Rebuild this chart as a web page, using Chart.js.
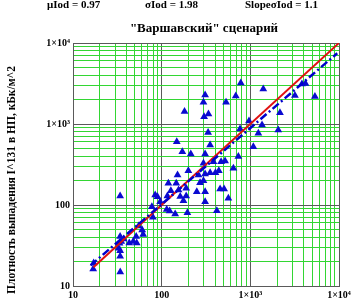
<!DOCTYPE html>
<html><head><meta charset="utf-8">
<script src="https://cdn.jsdelivr.net/npm/chart.js@4.4.1/dist/chart.umd.min.js"></script>
<style>html,body{margin:0;padding:0;background:#fff}#wrap{width:354px;height:304px}</style>
</head><body><div id="wrap"><canvas id="c" width="354" height="304"></canvas></div>
<script>
const statLabels = ["μIod = 0.97", "σIod = 1.98", "SlopeσIod = 1.1"];
const titleText = "\"Варшавский\" сценарий";
const yTitle = "Плотность выпадения I^131 в НП, кБк/м^2";
const decadeLabels = {10: "10", 100: "100", 1000: "1×10³", 10000: "1×10⁴"};

const obsX = [17.1,16.9,34.1,34,34,32.7,33.5,35.0,34,37.3,43.1,47.8,52.3,51.6,61.9,60.3,55.0,34,
  77.6,79.6,84.5,89.7,96.2,116,114,123,142,195,176,162,189,127,155,189,119,146,151,200,249,271,260,296,
  148,171,213,309,334,352,181,309,296,301,337,532,685,780,1400,3184,5350,3820,4185,2158,1355,966,766,2065,1231,1081,733,644,
  519,468,383,441,404,352,309,296,309,456,506,565,309,419];
const obsY = [19.2,16.2,14.9,23.3,27.3,29.2,33.6,35.4,40.8,38.0,34.0,35.4,34.0,40.8,43.2,49.1,55.0,129,
  95.3,70.5,133,126,110,129,87.9,84.3,77.4,80.4,113,127,129,150,153,161,185,185,234,265,146,188,234,327,
  604,455,427,427,785,551,1426,2281,1858,1231,1328,1858,2218,3209,2704,2249,2187,3119,3162,1380,973,1090,867,843,767,525,397,284,
  349,343,343,265,250,250,241,199,146,158,158,121,110,85.1];
const equalX = [17, 10000];
const equalY = [17, 10000];
const fitX = [15.8, 9550];
const fitY = [18, 7465];

function pts(xs, ys){ return xs.map((x,i)=>({x:x, y:ys[i]})); }
function logTicks(scale){
  const t=[];
  for(let d=10; d<10000; d*=10){ for(let m=1;m<10;m++) t.push({value:d*m}); }
  t.push({value:10000});
  scale.ticks = t;
}
const isDecade = v => [10,100,1000,10000].includes(v);
const gridColor = ctx => (ctx.tick && isDecade(ctx.tick.value)) ? '#5a5a5a' : '#33d633';
const tickFont = {family: "'Liberation Serif', serif", weight: 'bold', size: 10};

const textPlugin = {
  id: 'texts',
  afterDraw(chart){
    const c = chart.ctx;
    c.save();
    c.fillStyle = '#000';
    c.textBaseline = 'middle';
    c.font = "bold 11px 'Liberation Serif', serif";
    c.textAlign = 'left';
    c.fillText(statLabels[0], 47, 5);
    c.fillText(statLabels[1], 145, 5);
    c.fillText(statLabels[2], 245, 5);
    c.font = "bold 13px 'Liberation Serif', serif";
    c.textAlign = 'center';
    c.fillText(titleText, 204, 29);
    c.translate(12, 180);
    c.rotate(-Math.PI/2);
    c.font = "bold 11.5px 'Liberation Serif', serif";
    c.fillText(yTitle, 0, 0);
    c.restore();
  }
};

new Chart(document.getElementById('c'), {
  data: {
    datasets: [
      {type:'line', data: pts(equalX, equalY), borderColor:'#e01010', borderWidth:2, pointRadius:0, order:1},
      {type:'line', data: pts(fitX, fitY), borderColor:'#0000cc', borderWidth:2.5, borderDash:[8,3,2,3], pointRadius:0, order:0},
      {type:'scatter', data: pts(obsX, obsY), pointStyle:'triangle', radius:4.5, backgroundColor:'#0a0ad0', borderColor:'#0a0ad0', borderWidth:0, order:2}
    ]
  },
  options: {
    responsive:false, animation:false,
    layout:{padding:{top:43, right:15, left:0, bottom:0}},
    plugins:{legend:{display:false}, tooltip:{enabled:false}},
    scales:{
      x:{type:'logarithmic', min:10, max:10000, position:'bottom',
        afterBuildTicks: logTicks,
        afterFit: s => { s.height = 18; },
        ticks:{autoSkip:false, maxRotation:0, padding:3, color:'#000', font:tickFont,
          callback: v => decadeLabels[v] || ''},
        grid:{color:gridColor, lineWidth:1, drawTicks:false},
        border:{color:'#5a5a5a', width:1}},
      y:{type:'logarithmic', min:10, max:10000,
        afterBuildTicks: logTicks,
        afterFit: s => { s.width = 73; },
        ticks:{autoSkip:false, padding:3, color:'#000', font:tickFont,
          callback: v => decadeLabels[v] || ''},
        grid:{color:gridColor, lineWidth:1, drawTicks:false},
        border:{color:'#5a5a5a', width:1}}
    }
  },
  plugins:[textPlugin]
});
</script></body></html>
